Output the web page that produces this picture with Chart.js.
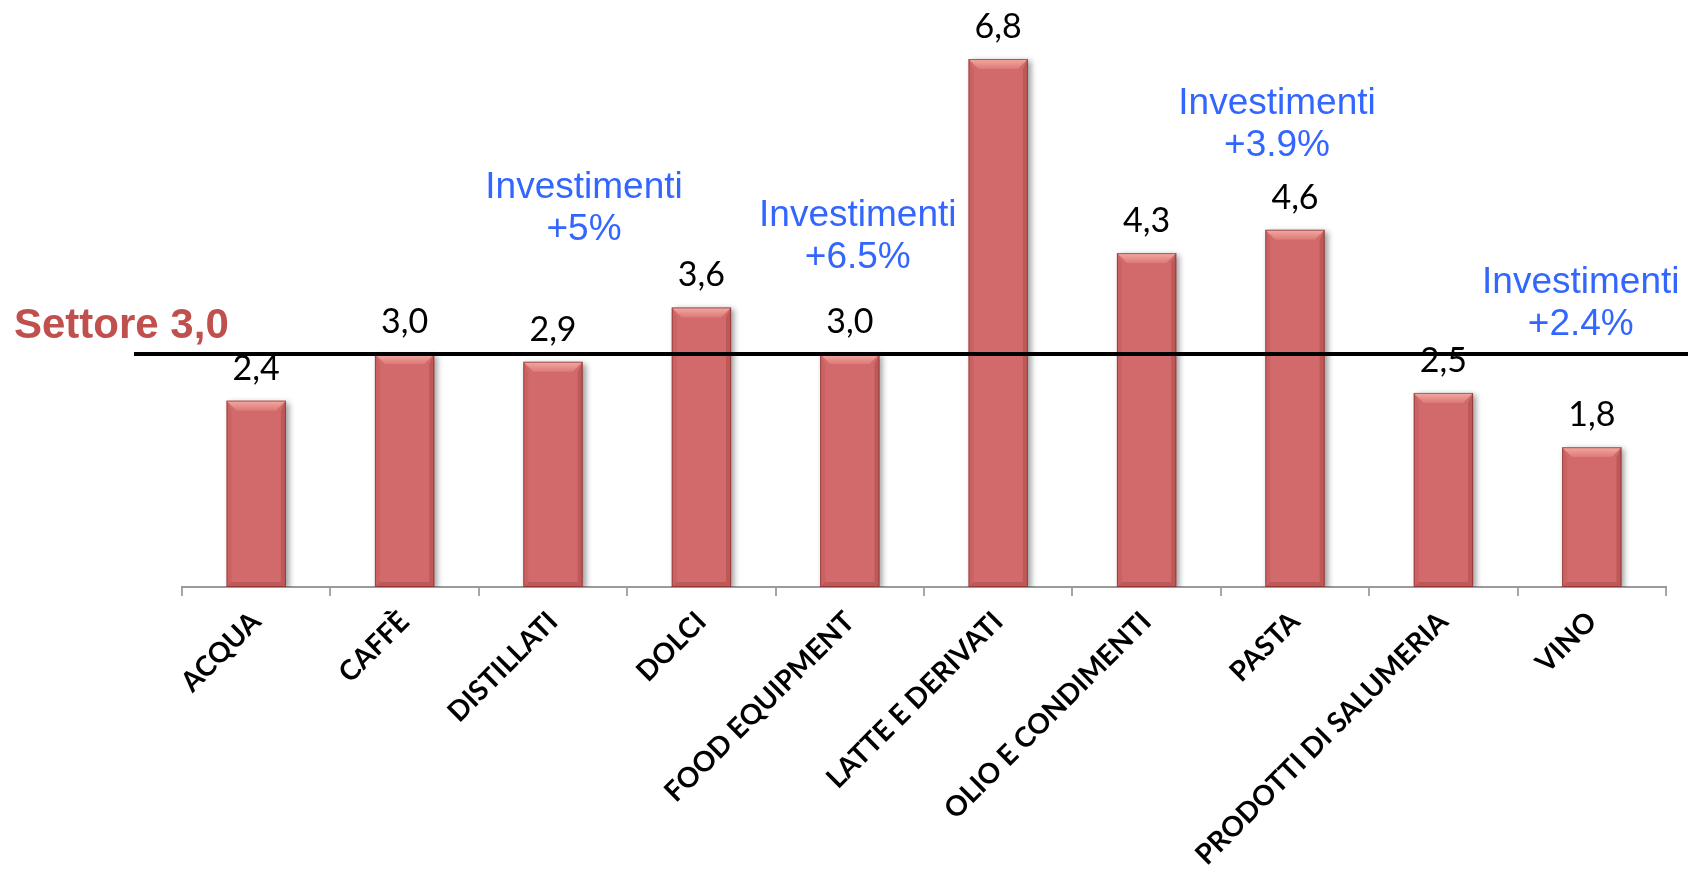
<!DOCTYPE html>
<html>
<head>
<meta charset="utf-8">
<script src="https://cdn.jsdelivr.net/npm/chart.js@4.4.0/dist/chart.umd.min.js"></script>
<style>
  html, body { margin: 0; padding: 0; background: #fff; }
  #wrap { width: 1688px; height: 869px; position: relative; }
</style>
</head>
<body>
<div id="wrap"><canvas id="myChart"></canvas></div>
<script>
const categories = ['ACQUA', 'CAFFÈ', 'DISTILLATI', 'DOLCI', 'FOOD EQUIPMENT', 'LATTE E DERIVATI',
  'OLIO E CONDIMENTI', 'PASTA', 'PRODOTTI DI SALUMERIA', 'VINO'];
const values = [2.4, 3.0, 2.9, 3.6, 3.0, 6.8, 4.3, 4.6, 2.5, 1.8];
const sectorValue = 3.0;
const sectorLabel = 'Settore 3,0';
// investment notes: category index they sit near and text lines
const noteCategory = [2, 4, 7, 9];
const noteLines = [
  ['Investimenti', '+5%'],
  ['Investimenti', '+6.5%'],
  ['Investimenti', '+3.9%'],
  ['Investimenti', '+2.4%']
];
const noteDx = [31, 8, -18, -11];
const noteY = [198, 226, 114, 293];

const ctx = document.getElementById('myChart');

function fmt(v) {
  return v.toFixed(1).replace('.', ',');
}

const barDeco = {
  id: 'barDeco',
  beforeDatasetsDraw(chart) {
    const c = chart.ctx;
    c.save();
    c.shadowColor = 'rgba(0,0,0,0.4)';
    c.shadowBlur = 6;
    c.shadowOffsetX = 3;
    c.shadowOffsetY = 2;
  },
  afterDatasetsDraw(chart) {
    const c = chart.ctx;
    c.restore();
    const meta = chart.getDatasetMeta(0);
    meta.data.forEach(function (bar, i) {
      const l = bar.x - bar.width / 2, r = bar.x + bar.width / 2;
      const t = bar.y, btm = bar.base;
      const b = 10, s = 5;
      c.save();
      // top bevel
      const g = c.createLinearGradient(0, t, 0, t + b);
      g.addColorStop(0, '#f3a9a4');
      g.addColorStop(1, '#dc7a75');
      c.fillStyle = g;
      c.beginPath();
      c.moveTo(l, t); c.lineTo(r, t); c.lineTo(r - b, t + b); c.lineTo(l + b, t + b);
      c.closePath(); c.fill();
      // left side
      c.fillStyle = 'rgba(140,40,35,0.10)';
      c.beginPath();
      c.moveTo(l, t); c.lineTo(l + s, t + b); c.lineTo(l + s, btm - s); c.lineTo(l, btm);
      c.closePath(); c.fill();
      // right side
      c.fillStyle = 'rgba(110,25,20,0.20)';
      c.beginPath();
      c.moveTo(r, t); c.lineTo(r - s, t + b); c.lineTo(r - s, btm - s); c.lineTo(r, btm);
      c.closePath(); c.fill();
      // bottom
      c.fillStyle = 'rgba(110,25,20,0.20)';
      c.beginPath();
      c.moveTo(l, btm); c.lineTo(l + s, btm - s); c.lineTo(r - s, btm - s); c.lineTo(r, btm);
      c.closePath(); c.fill();
      c.strokeStyle = 'rgba(120,40,36,0.6)';
      c.lineWidth = 1;
      c.strokeRect(l + 0.5, t + 0.5, bar.width - 1, btm - t - 1);
      // value label
      c.fillStyle = '#000';
      c.font = '34px Lato';
      c.textAlign = 'center';
      c.textBaseline = 'alphabetic';
      c.fillText(fmt(values[i]), bar.x, t - 21);
      c.restore();
    });

    // sector line
    const ys = chart.scales.y.getPixelForValue(sectorValue);
    c.save();
    c.strokeStyle = '#000';
    c.lineWidth = 4;
    c.beginPath();
    c.moveTo(134, ys);
    c.lineTo(chart.width, ys);
    c.stroke();
    c.fillStyle = '#C0504D';
    c.font = 'bold 42px "Liberation Sans"';
    c.textAlign = 'left';
    c.fillText(sectorLabel, 14, ys - 16);

    // investment notes
    c.fillStyle = '#3366FF';
    c.font = '37px "Liberation Sans"';
    c.textAlign = 'center';
    noteCategory.forEach(function (ci, k) {
      const x = chart.scales.x.getPixelForValue(ci) + noteDx[k];
      noteLines[k].forEach(function (line, j) {
        c.fillText(line, x, noteY[k] + j * 42);
      });
    });
    c.restore();
  }
};

new Chart(ctx, {
  type: 'bar',
  data: {
    labels: categories,
    datasets: [
      {
        data: values,
        backgroundColor: '#D2696A',
        borderWidth: 0,
        barPercentage: 0.4,
        categoryPercentage: 1.0
      }
    ]
  },
  options: {
    responsive: true,
    maintainAspectRatio: false,
    animation: false,
    layout: {
      padding: { left: 182, right: 22, top: 0, bottom: 0 }
    },
    scales: {
      y: {
        display: false,
        min: 0,
        max: 7.56
      },
      x: {
        afterFit: function (scale) { scale.height = 282; },
        border: { color: '#9a9a9a', width: 2 },
        grid: {
          offset: true,
          drawOnChartArea: false,
          drawTicks: true,
          tickLength: 9,
          color: '#a6a6a6',
          lineWidth: 2
        },
        ticks: {
          autoSkip: false,
          maxRotation: 45,
          minRotation: 45,
          padding: 9,
          color: '#000',
          font: { family: 'Lato', weight: 'bold', size: 28 }
        }
      }
    },
    plugins: {
      legend: { display: false },
      tooltip: { enabled: false }
    }
  },
  plugins: [barDeco]
});
</script>
</body>
</html>
